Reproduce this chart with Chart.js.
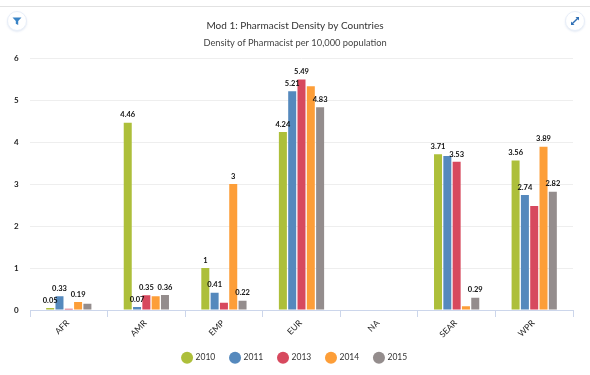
<!DOCTYPE html>
<html>
<head>
<meta charset="utf-8">
<title>Pharmacist Density</title>
<script src="https://cdn.jsdelivr.net/npm/chart.js@4"></script>
<style>
  html, body { margin: 0; padding: 0; background: #fff; overflow: hidden; }
  #wrap { position: relative; width: 590px; height: 375px; }
  #topLine { position: absolute; left: 0; top: 6px; width: 590px; height: 1px; background: #e2e2e2; }
  canvas { position: absolute; left: 0; top: 0; }
  .roundBtn {
    position: absolute; top: 11px; width: 18px; height: 18px;
    border: 1px solid #e8eef8; border-radius: 50%; background: #fff;
    box-shadow: 0 1px 2px rgba(120, 150, 200, 0.2);
  }
  .roundBtn svg { position: absolute; left: 4px; top: 4px; }
</style>
</head>
<body>
<div id="wrap">
  <div id="topLine"></div>
  <canvas id="densityChart" width="590" height="375"></canvas>
  <div class="roundBtn" style="left:7px">
    <svg width="10" height="10" viewBox="0 0 10 10"><path d="M0.5 1.5h9L6.2 5v4L3.8 7.8V5z" fill="#3a84c6"/></svg>
  </div>
  <div class="roundBtn" style="left:565px">
    <svg width="10" height="10" viewBox="0 0 10 10"><path d="M5.5 1H9v3.5L7.8 3.2 3.2 7.8 4.5 9H1V5.5l1.2 1.3 4.6-4.6z" fill="#2f6fb5"/></svg>
  </div>
</div>
<script>
const regions = ["AFR", "AMR", "EMP", "EUR", "NA", "SEAR", "WPR"];
const years = ["2010", "2011", "2013", "2014", "2015"];
const colors = ["#adbf3a", "#5589bd", "#d7495e", "#fd9e38", "#948d8d"];

const values2010 = [0.05, 4.46, 1, 4.24, null, 3.71, 3.56];
const values2011 = [0.33, 0.07, 0.41, 5.21, null, 3.67, 2.74];
const values2013 = [0.03, 0.35, 0.17, 5.49, null, 3.53, 2.48];
const values2014 = [0.19, 0.33, 3, 5.33, null, 0.09, 3.89];
const values2015 = [0.15, 0.36, 0.22, 4.83, null, 0.29, 2.82];
const seriesValues = [values2010, values2011, values2013, values2014, values2015];

// labels that would collide with a neighbour stay off, as [series, region]
const hiddenLabels = ["2,0", "3,1", "4,0", "3,3", "2,2", "1,5", "3,5", "2,6"];

const valueLabels = {
  id: "valueLabels",
  afterDatasetsDraw(chart) {
    const ctx = chart.ctx;
    ctx.save();
    ctx.font = "bold 7.5px Lato";
    ctx.fillStyle = "#111";
    ctx.textAlign = "center";
    ctx.textBaseline = "bottom";
    chart.data.datasets.forEach((ds, i) => {
      chart.getDatasetMeta(i).data.forEach((bar, j) => {
        if (ds.data[j] === null || hiddenLabels.includes(i + "," + j)) return;
        ctx.fillText(String(ds.data[j]), bar.x, bar.y - 4);
      });
    });
    ctx.restore();
  },
};

new Chart(document.getElementById("densityChart"), {
  type: "bar",
  data: {
    labels: regions,
    datasets: years.map((year, i) => ({
      label: year,
      data: seriesValues[i],
      backgroundColor: colors[i],
      borderWidth: 0,
      barPercentage: 0.86,
      categoryPercentage: 0.6,
    })),
  },
  options: {
    responsive: false,
    animation: false,
    // same padding both sides keeps title and legend centred on the page
    layout: { padding: { top: 19, left: 17, right: 17, bottom: 3 } },
    plugins: {
      title: {
        display: true,
        text: "Mod 1: Pharmacist Density by Countries",
        color: "#333",
        font: { family: "Lato", size: 10, weight: "normal" },
        padding: { top: 1, bottom: 5.5 },
      },
      subtitle: {
        display: true,
        text: "Density of Pharmacist per 10,000 population",
        color: "#444",
        font: { family: "Lato", size: 9.3, weight: "normal" },
        padding: { top: 0, bottom: 9.5 },
      },
      legend: {
        position: "bottom",
        labels: {
          usePointStyle: true,
          pointStyle: "circle",
          boxWidth: 9,
          boxHeight: 9,
          padding: 15.5,
          color: "#333",
          font: { family: "Lato", size: 8.5 },
        },
      },
      tooltip: { enabled: false },
    },
    scales: {
      x: {
        afterFit(scale) { scale.height = 28; },
        grid: { drawOnChartArea: false, color: "#ccd6eb", tickLength: 7 },
        border: { color: "#ccd6eb" },
        ticks: {
          maxRotation: 45,
          minRotation: 45,
          padding: 1,
          labelOffset: -1,
          color: "#222",
          font: { family: "Lato", size: 8.5 },
        },
      },
      y: {
        min: 0,
        max: 6,
        afterFit(scale) { scale.width = 13; },
        grid: { color: "#eeeeee", drawTicks: false },
        border: { display: false },
        ticks: {
          stepSize: 1,
          // mirrored so the numbers are not clipped to the narrow scale box
          mirror: true,
          padding: -16,
          color: "#222",
          font: { family: "Lato", size: 8, weight: "bold" },
        },
      },
    },
  },
  plugins: [valueLabels],
});
</script>
</body>
</html>
